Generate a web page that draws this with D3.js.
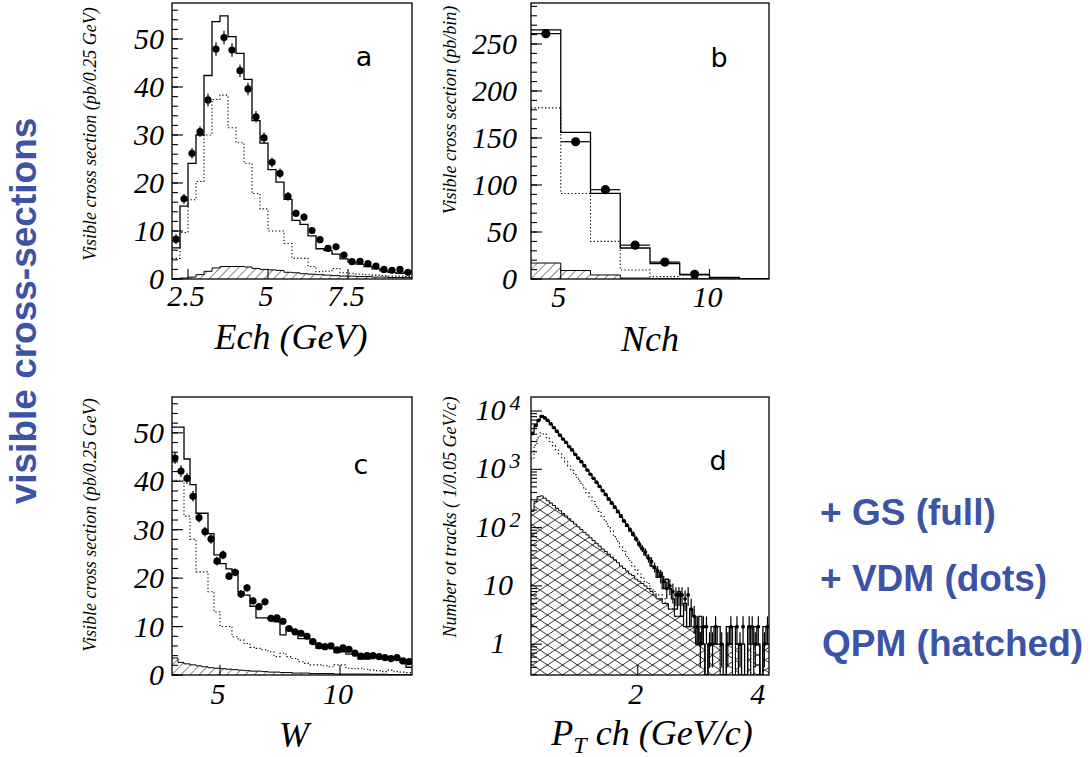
<!DOCTYPE html>
<html>
<head>
<meta charset="utf-8">
<script src="https://cdn.jsdelivr.net/npm/d3@7"></script>
<style>
  body { margin: 0; background: #fff; }
  svg { display: block; }
</style>
</head>
<body>
<svg id="chart" width="1090" height="757"></svg>
<script>
// ---------- Panel a: charged energy Ech, bins of 0.25 GeV from 2.0 ----------
const echLow = 2.0, echWidth = 0.25;
const echData = [8.3, 16.7, 26.2, 30.7, 37.3, 47.9, 50.3, 47.7, 43.4, 39.6, 33.8, 29.4, 24.3, 22.0, 17.2, 13.7, 12.9, 10.1, 8.2, 6.4, 6.7, 5.0, 3.6, 3.7, 3.2, 2.7, 2.0, 1.8, 2.0, 1.4];
const echErr  = [1.0, 1.0, 1.1, 1.1, 1.3, 1.4, 1.4, 1.4, 1.3, 1.3, 1.2, 1.1, 1.0, 1.0, 0.9, 0.8, 0.8, 0.7, 0.7, 0.6, 0.6, 0.5, 0.5, 0.5, 0.4, 0.4, 0.4, 0.4, 0.4, 0.3];
const echFull = [6.5, 15.2, 24.1, 30.0, 42.4, 53.6, 54.8, 50.5, 47.0, 41.6, 33.0, 28.3, 22.8, 20.2, 16.6, 12.2, 11.4, 9.0, 6.3, 5.9, 5.2, 4.2, 3.5, 3.1, 2.6, 2.1, 1.7, 1.4, 1.2, 1.5];
const echVdm  = [4.3, 9.7, 16.5, 20.3, 30.0, 37.4, 38.3, 31.5, 28.4, 24.1, 17.8, 14.6, 10.0, 10.0, 7.4, 4.3, 4.3, 2.6, 1.5, 1.6, 2.2, 1.3, 1.2, 1.0, 0.9, 0.8, 0.7, 0.6, 0.6, 0.5];
const echQpm  = [0.1, 0.2, 0.4, 0.9, 1.6, 2.3, 2.6, 2.6, 2.6, 2.5, 2.2, 2.0, 1.9, 1.8, 1.4, 1.3, 1.1, 1.0, 0.9, 0.8, 0.7, 0.6, 0.6, 0.5, 0.5, 0.4, 0.4, 0.3, 0.3, 0.3];
const echYTicks = [0, 10, 20, 30, 40, 50];
const echXTicks = [2.5, 5, 7.5];
const echXLabels = ["2.5", "5", "7.5"];

// ---------- Panel b: charged multiplicity Nch, unit bins from 4 ----------
const nchLow = 4, nchWidth = 1;
const nchData = [261, 146, 95, 36, 18, 5];
const nchErr  = [4, 3, 3, 2, 1.5, 1];
const nchFull = [265, 156, 91, 33, 16.5, 4.3, 1.8, 0.3];
const nchVdm  = [182, 91, 40, 9.6, 2.5, 0.6, 0.2, 0.1];
const nchQpm  = [17, 9, 4.3, 1.0, 0.3, 0.1, 0, 0];
const nchYTicks = [0, 50, 100, 150, 200, 250];
const nchXTicks = [5, 10];
const nchXLabels = ["5", "10"];

// ---------- Panel c: W, bins of 0.25 from 3.0 ----------
const wLow = 3.0, wWidth = 0.25;
const wData = [44.8, 42.1, 40.6, 36.9, 32.5, 29.6, 28.1, 23.5, 24.8, 20.4, 21.2, 16.7, 18.0, 15.3, 14.1, 15.1, 11.7, 11.8, 11.1, 9.6, 8.9, 8.6, 8.0, 6.9, 6.05, 5.85, 6.0, 5.2, 5.6, 5.3, 4.5, 3.9, 4.0, 4.0, 3.8, 3.6, 3.4, 3.6, 2.9, 2.75];
const wErr  = [1.2, 1.2, 1.1, 1.1, 1.0, 1.0, 1.0, 0.9, 0.9, 0.8, 0.8, 0.8, 0.7, 0.7, 0.7, 0.7, 0.6, 0.6, 0.6, 0.5, 0.5, 0.5, 0.5, 0.5, 0.4, 0.4, 0.4, 0.4, 0.4, 0.4, 0.4, 0.3, 0.3, 0.3, 0.3, 0.3, 0.3, 0.3, 0.3, 0.3];
const wFull = [51.2, 51.2, 44.6, 39.3, 33.4, 33.4, 29.2, 24.8, 23.0, 21.9, 21.5, 17.2, 16.5, 14.2, 11.8, 11.8, 11.5, 11.0, 8.3, 9.7, 9.0, 7.5, 7.5, 6.5, 5.5, 5.6, 5.6, 4.6, 4.8, 4.3, 4.3, 3.3, 3.3, 3.8, 3.8, 3.3, 3.2, 3.2, 2.6, 1.6];
const wVdm  = [40.2, 40.2, 32.8, 28.0, 21.3, 21.3, 17.2, 13.0, 10.0, 10.0, 7.9, 7.2, 6.5, 5.7, 5.5, 5.2, 4.8, 3.8, 4.5, 3.8, 3.4, 2.75, 2.4, 2.1, 2.1, 1.9, 1.7, 2.1, 2.1, 1.4, 1.3, 1.4, 1.2, 1.0, 0.9, 0.7, 1.0, 0.7, 0.6, 0.5];
const wQpm  = [3.5, 2.6, 2.3, 2.1, 1.9, 1.7, 1.5, 1.4, 1.3, 1.2, 1.1, 1.0, 0.9, 0.8, 0.8, 0.7, 0.6, 0.6, 0.5, 0.5, 0.4, 0.4, 0.4, 0.3, 0.3, 0.3, 0.3, 0.2, 0.2, 0.2, 0.2, 0.2, 0.2, 0.15, 0.15, 0.15, 0.1, 0.1, 0.1, 0.1];
const wYTicks = [0, 10, 20, 30, 40, 50];
const wXTicks = [5, 10];
const wXLabels = ["5", "10"];

// ---------- Panel d: track transverse momentum, bins of 0.05 GeV/c from 0.25 ----------
const ptLow = 0.25, ptWidth = 0.05;
const ptData = [4100, 5600, 6900, 8100, 7600, 6900, 6000, 5200, 4500, 3850, 3300, 2900, 2450, 2150, 1800, 1550, 1350, 1150, 970, 820, 700, 600, 510, 430, 370, 310, 265, 225, 190, 160, 130, 110, 92, 78, 64,
                52, 44, 38, 30, 26, 21, 18, 15, 12, 9, 10, 8, 7, 7, 7, 6, 7, 4, 3, 2, 1, 2, 2, 1, 1, 2, 0, 1, 0, 1, 2, 0, 2, 1, 2, 0, 2, 2, 1, 2, 0, 1, 2];
const ptErr  = [60, 70, 80, 90, 85, 80, 75, 70, 65, 60, 55, 52, 48, 44, 40, 38, 35, 32, 30, 28, 26, 24, 22, 20, 19, 17, 15, 14, 13, 11, 10, 9, 9, 8, 7,
                7, 6, 6, 5, 5, 4, 4, 4, 3, 3, 3, 3, 2.5, 2.5, 2.5, 2.3, 2.5, 2, 1.5, 1, 0.6, 1, 1, 0.6, 0.6, 1, 0, 0.6, 0, 0.6, 1, 0, 1, 0.6, 1, 0, 1, 1, 0.6, 1, 0, 0.6, 1];
const ptFull = [4300, 5500, 7000, 8300, 7800, 6800, 5900, 5100, 4400, 3800, 3300, 2850, 2450, 2100, 1800, 1550, 1330, 1130, 960, 820, 700, 590, 500, 425, 360, 300, 255, 215, 180, 150, 128, 105, 88, 74, 62,
                50, 42, 34, 30, 22, 20, 14, 17, 9, 13, 9, 6, 4, 8, 3, 5, 2, 4, 3, 1, 3, 1, 0, 1, 2, 1, 2, 1, 0, 2, 1, 2, 1, 0, 1, 0, 2, 1, 2, 1, 0, 2, 1];
const ptVdm  = [1500, 2600, 3500, 4200, 4000, 3500, 3000, 2550, 2150, 1850, 1580, 1340, 1140, 960, 810, 680, 570, 480, 400, 335, 280, 230, 190, 155, 128, 105, 86, 70, 58, 47, 39, 32, 27, 22, 19,
                16, 14, 12, 11, 9, 8, 7, 7, 6, 5, 4, 4, 3, 3, 3, 2, 2, 2, 2, 1, 2, 1, 0, 1, 1, 1, 1, 0, 0, 1, 1, 0, 1, 0, 0, 0, 1, 0, 1, 1, 0, 1, 1];
const ptQpm  = [190, 280, 340, 350, 320, 290, 265, 240, 215, 195, 175, 158, 142, 128, 115, 103, 93, 83, 75, 67, 60, 54, 48, 43, 39, 35, 31, 28, 25, 22, 20, 18, 16, 15, 13,
                12, 11, 10, 9, 8, 7, 6, 6, 5, 5, 4, 4, 3, 3, 3, 2, 2, 2, 2, 1, 2, 1, 0, 1, 1, 1, 1, 0, 0, 1, 1, 0, 1, 0, 0, 0, 1, 0, 1, 1, 0, 1, 1];
const ptYDecades = [1, 10, 100, 1000, 10000];
const ptXTicks = [2, 4];
const ptXLabels = ["2", "4"];

// ---------- Side texts ----------
const sideTitle = "visible cross-sections";
const legendLines = ["+ GS (full)", "+ VDM (dots)", "QPM (hatched)"];

// ---------- Drawing ----------
const svg = d3.select("#chart");
const defs = svg.append("defs");
const SERIF = "'Liberation Serif', 'Times New Roman', serif";
const SANS = "'Liberation Sans', Arial, sans-serif";
const BLUE = "#3b54a5";
const TICK_FONT = 30, TITLE_FONT = 36;

// single-direction hatch for panels a-c
const hatch = defs.append("pattern").attr("id", "hatch1")
  .attr("patternUnits", "userSpaceOnUse").attr("width", 6.5).attr("height", 6.5)
  .attr("patternTransform", "rotate(45)");
hatch.append("line").attr("x1", 0).attr("y1", 0).attr("x2", 0).attr("y2", 6.5)
  .attr("stroke", "#000").attr("stroke-width", 0.9);

// cross hatch for panel d
const hatch2 = defs.append("pattern").attr("id", "hatch2")
  .attr("patternUnits", "userSpaceOnUse").attr("width", 15).attr("height", 10);
hatch2.append("path").attr("d", "M0,10L15,0M0,0L15,10")
  .attr("stroke", "#000").attr("stroke-width", 0.8).attr("fill", "none");

function drawPanel(cfg) {
  const { id, box, x, y, low, width } = cfg;
  const g = svg.append("g");
  defs.append("clipPath").attr("id", "clip-" + id).append("rect")
    .attr("x", box.l).attr("y", box.t).attr("width", box.r - box.l).attr("height", box.b - box.t);
  const plot = g.append("g").attr("clip-path", `url(#clip-${id})`);
  const ymin = y.domain()[0];
  const yv = v => y(Math.max(v, ymin));
  const steps = vals => {
    const pts = vals.map((v, i) => [low + i * width, v]);
    pts.push([low + vals.length * width, vals[vals.length - 1]]);
    return pts;
  };
  const line = d3.line().x(d => x(d[0])).y(d => yv(d[1])).curve(d3.curveStepAfter);
  const area = d3.area().x(d => x(d[0])).y0(box.b).y1(d => yv(d[1])).curve(d3.curveStepAfter);

  // QPM hatched
  plot.append("path").attr("d", area(steps(cfg.qpm))).attr("fill", `url(#${cfg.hatch})`);
  plot.append("path").attr("d", line(steps(cfg.qpm))).attr("fill", "none")
    .attr("stroke", "#000").attr("stroke-width", 1);
  // QPM+VDM dotted
  plot.append("path").attr("d", line(steps(cfg.vdm))).attr("fill", "none")
    .attr("stroke", "#000").attr("stroke-width", 1.1).attr("stroke-dasharray", "1.3,2.2");
  // full sum
  plot.append("path").attr("d", line(steps(cfg.full))).attr("fill", "none")
    .attr("stroke", "#000").attr("stroke-width", 1.3);

  // data points
  const pts = cfg.data.map((v, i) => ({ v, e: cfg.err[i], c: low + (i + 0.5) * width, a: low + i * width, b: low + (i + 1) * width }))
    .filter(d => d.v > 0);
  const pg = plot.append("g");
  pg.selectAll("line.ey").data(pts).join("line").attr("class", "ey")
    .attr("x1", d => x(d.c)).attr("x2", d => x(d.c))
    .attr("y1", d => yv(d.v - d.e)).attr("y2", d => yv(d.v + d.e))
    .attr("stroke", "#000").attr("stroke-width", 1.2);
  if (cfg.xbars) {
    pg.selectAll("line.ex").data(pts).join("line").attr("class", "ex")
      .attr("x1", d => x(d.a)).attr("x2", d => x(d.b))
      .attr("y1", d => y(d.v)).attr("y2", d => y(d.v))
      .attr("stroke", "#000").attr("stroke-width", 1.2);
  }
  pg.selectAll("circle").data(pts).join("circle")
    .attr("cx", d => x(d.c)).attr("cy", d => y(d.v)).attr("r", cfg.r).attr("fill", "#000");

  // frame
  g.append("rect").attr("x", box.l).attr("y", box.t).attr("width", box.r - box.l).attr("height", box.b - box.t)
    .attr("fill", "none").attr("stroke", "#000").attr("stroke-width", 1.3);

  // y ticks (inside the frame)
  const tg = g.append("g").attr("stroke", "#000").attr("stroke-width", 1.1);
  cfg.yMinor.filter(v => y(v) >= box.t && y(v) <= box.b).forEach(v => {
    tg.append("line").attr("x1", box.l).attr("x2", box.l + 6).attr("y1", y(v)).attr("y2", y(v));
  });
  cfg.yMajor.forEach(v => {
    tg.append("line").attr("x1", box.l).attr("x2", box.l + 11).attr("y1", y(v)).attr("y2", y(v));
  });
  // x ticks
  cfg.xMajor.forEach(v => {
    tg.append("line").attr("x1", x(v)).attr("x2", x(v)).attr("y1", box.b).attr("y2", box.b - 10);
  });

  // y tick labels
  if (cfg.logLabels) {
    cfg.yMajor.forEach(v => {
      const p = Math.round(Math.log10(v));
      const t = g.append("text").attr("x", cfg.yLabelX).attr("y", y(v) + 9)
        .attr("text-anchor", "middle").attr("font-family", SERIF).attr("font-style", "italic")
        .attr("font-size", TICK_FONT);
      if (p <= 1) {
        t.text(p === 0 ? "1" : "10");
      } else {
        t.append("tspan").text("10");
        t.append("tspan").attr("dy", -10).attr("dx", 4).attr("font-size", 22).text(String(p));
      }
    });
  } else {
    cfg.yMajor.forEach(v => {
      g.append("text").attr("x", cfg.yLabelX).attr("y", y(v) + 10)
        .attr("text-anchor", "end").attr("font-family", SERIF).attr("font-style", "italic")
        .attr("font-size", TICK_FONT).text(String(v));
    });
  }
  // x tick labels
  cfg.xMajor.forEach((v, i) => {
    g.append("text").attr("x", x(v) - 2).attr("y", cfg.xLabelY)
      .attr("text-anchor", "middle").attr("font-family", SERIF).attr("font-style", "italic")
      .attr("font-size", TICK_FONT).text(cfg.xLabels[i]);
  });

  // y title
  g.append("text").attr("transform", `translate(${cfg.yTitleX},${cfg.yTitleY}) rotate(-90)`)
    .attr("text-anchor", "middle").attr("font-family", SERIF).attr("font-style", "italic")
    .attr("font-size", 18).text(cfg.yTitle);

  // x title
  const xt = g.append("text").attr("x", cfg.xTitleX).attr("y", cfg.xTitleY)
    .attr("text-anchor", "middle").attr("font-family", SERIF).attr("font-style", "italic")
    .attr("font-size", TITLE_FONT);
  cfg.xTitle.forEach(part => {
    const s = xt.append("tspan").text(part.t);
    if (part.sub) s.attr("font-size", 24).attr("dy", 8);
    if (part.after) s.attr("dy", -8);
  });

  // panel letter
  g.append("text").attr("x", cfg.letterX).attr("y", cfg.letterY).attr("text-anchor", "middle")
    .attr("font-family", "'DejaVu Sans', sans-serif").attr("font-size", 27).text(cfg.letter);
}

const boxA = { l: 172, t: 3, r: 412, b: 279 };
const boxB = { l: 531, t: 3, r: 769, b: 279 };
const boxC = { l: 172, t: 397, r: 412, b: 675 };
const boxD = { l: 531, t: 397, r: 769, b: 675 };

drawPanel({
  id: "a", box: boxA, low: echLow, width: echWidth,
  x: d3.scaleLinear().domain([2, 9.5]).range([boxA.l, boxA.r]),
  y: d3.scaleLinear().domain([0, 57.5]).range([boxA.b, boxA.t]),
  data: echData, err: echErr, full: echFull, vdm: echVdm, qpm: echQpm, hatch: "hatch1", r: 3.6,
  yMajor: echYTicks, yMinor: d3.range(0, 58, 2), xMajor: echXTicks, xLabels: echXLabels,
  yLabelX: 164, xLabelY: 306,
  yTitle: "Visible cross section (pb/0.25 GeV)", yTitleX: 96, yTitleY: 134,
  xTitle: [{ t: "Ech (GeV)" }], xTitleX: 291, xTitleY: 349,
  letter: "a", letterX: 364, letterY: 66
});

drawPanel({
  id: "b", box: boxB, low: nchLow, width: nchWidth,
  x: d3.scaleLinear().domain([4, 12]).range([boxB.l, boxB.r]),
  y: d3.scaleLinear().domain([0, 293.6]).range([boxB.b, boxB.t]),
  data: nchData, err: nchErr, full: nchFull, vdm: nchVdm, qpm: nchQpm, hatch: "hatch1", r: 4.6, xbars: true,
  yMajor: nchYTicks, yMinor: d3.range(0, 300, 10), xMajor: nchXTicks, xLabels: nchXLabels,
  yLabelX: 517, xLabelY: 307,
  yTitle: "Visible cross section (pb/bin)", yTitleX: 456, yTitleY: 110,
  xTitle: [{ t: "Nch" }], xTitleX: 650, xTitleY: 351,
  letter: "b", letterX: 719, letterY: 67
});

drawPanel({
  id: "c", box: boxC, low: wLow, width: wWidth,
  x: d3.scaleLinear().domain([3, 13]).range([boxC.l, boxC.r]),
  y: d3.scaleLinear().domain([0, 57.4]).range([boxC.b, boxC.t]),
  data: wData, err: wErr, full: wFull, vdm: wVdm, qpm: wQpm, hatch: "hatch1", r: 3.6,
  yMajor: wYTicks, yMinor: d3.range(0, 58, 2), xMajor: wXTicks, xLabels: wXLabels,
  yLabelX: 164, xLabelY: 704,
  yTitle: "Visible cross section (pb/0.25 GeV)", yTitleX: 96, yTitleY: 525,
  xTitle: [{ t: "W" }], xTitleX: 294, xTitleY: 747,
  letter: "c", letterX: 361, letterY: 474
});

const ptMinor = [];
[0.1, 1, 10, 100, 1000, 10000].forEach(dec => [2, 3, 4, 5, 6, 7, 8, 9].forEach(m => ptMinor.push(dec * m)));
drawPanel({
  id: "d", box: boxD, low: ptLow, width: ptWidth,
  x: d3.scaleLinear().domain([0.25, 4.15]).range([boxD.l, boxD.r]),
  y: d3.scaleLog().domain([0.296, 17400]).range([boxD.b, boxD.t]),
  data: ptData, err: ptErr, full: ptFull, vdm: ptVdm, qpm: ptQpm, hatch: "hatch2", r: 1.9,
  yMajor: ptYDecades, yMinor: ptMinor, xMajor: ptXTicks, xLabels: ptXLabels, logLabels: true,
  yLabelX: 498, xLabelY: 704,
  yTitle: "Number ot tracks ( 1/0.05 GeV/c)", yTitleX: 456, yTitleY: 517,
  xTitle: [{ t: "P" }, { t: "T", sub: true }, { t: " ch (GeV/c)", after: true }], xTitleX: 652, xTitleY: 745,
  letter: "d", letterX: 718, letterY: 470
});

// rotated overall title
svg.append("text").attr("transform", "translate(36,311) rotate(-90)")
  .attr("text-anchor", "middle").attr("font-family", SANS).attr("font-weight", "bold")
  .attr("font-size", 37).attr("fill", BLUE).text(sideTitle);

// legend texts
const legendY = [525, 591, 656];
const legendX = [820, 820, 822];
legendLines.forEach((t, i) => {
  svg.append("text").attr("x", legendX[i]).attr("y", legendY[i])
    .attr("font-family", SANS).attr("font-weight", "bold").attr("font-size", 37)
    .attr("fill", BLUE).text(t);
});
</script>
</body>
</html>
